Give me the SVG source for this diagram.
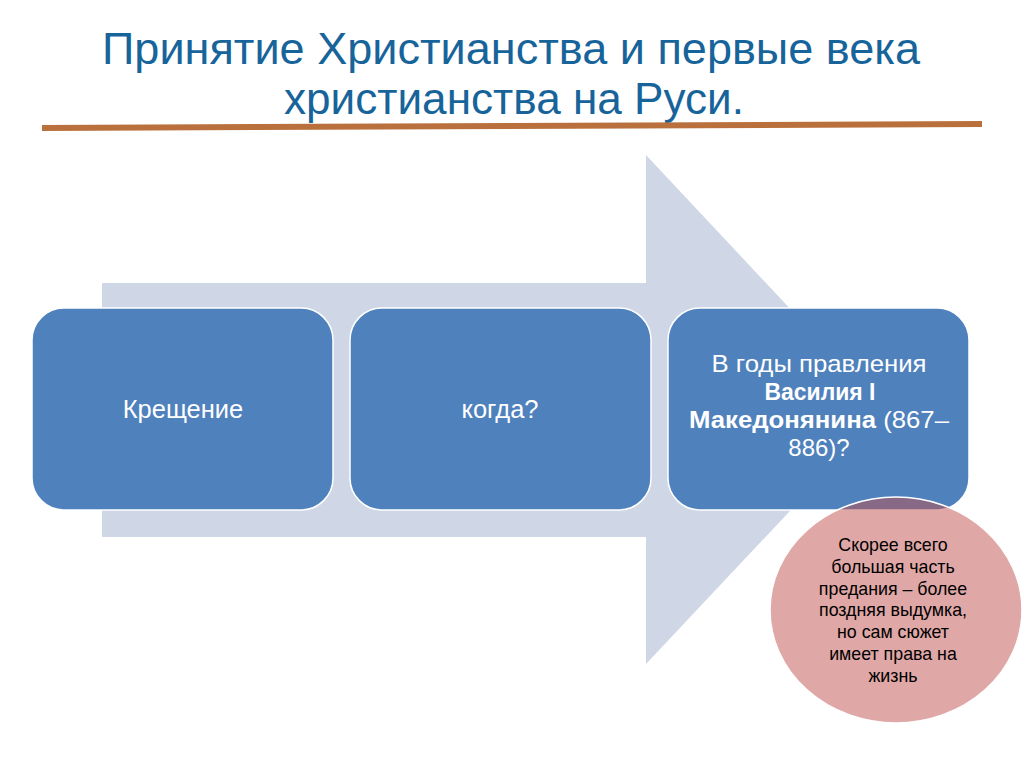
<svg xmlns="http://www.w3.org/2000/svg" width="1024" height="767" viewBox="0 0 1024 767">
<style>
.title{font-family:"Liberation Sans",Arial,sans-serif;font-size:44px;fill:#17649b;text-anchor:middle}
.box{fill:#4f81bd;stroke:#ffffff;stroke-width:1.5}
.bt{font-family:"Liberation Sans",Arial,sans-serif;font-size:24px;fill:#ffffff;text-anchor:middle}
.big{font-size:25.5px}
.ct{font-family:"Liberation Sans",Arial,sans-serif;font-size:17.8px;fill:#000000;text-anchor:middle}
</style>
<rect width="1024" height="767" fill="#ffffff"/>
<g id="title">
<text class="title" x="511" y="64" textLength="818" lengthAdjust="spacingAndGlyphs">Принятие Христианства и первые века</text>
<text class="title" x="514" y="114" textLength="460" lengthAdjust="spacingAndGlyphs">христианства на Руси.</text>
<polygon points="42,125 982,121 982,127 42,131" fill="#b9703c"/>
</g>
<g id="arrow">
<polygon points="102,283 646,283 646,155 885,410 646,664 646,537 102,537" fill="#cfd7e6"/>
</g>
<g id="box1">
<rect class="box" x="32" y="308" width="301" height="202" rx="32" ry="32"/>
<text class="bt big" x="183" y="418">Крещение</text>
</g>
<g id="box2">
<rect class="box" x="350" y="308" width="301" height="202" rx="32" ry="32"/>
<text class="bt big" x="500" y="418">когда?</text>
</g>
<g id="box3">
<rect class="box" x="668" y="308" width="301" height="202" rx="32" ry="32"/>
<text class="bt" x="819" y="372" textLength="215" lengthAdjust="spacingAndGlyphs">В годы правления</text>
<text class="bt" x="820" y="400" font-weight="bold" textLength="111" lengthAdjust="spacingAndGlyphs">Василия I</text>
<text class="bt" x="819" y="428" textLength="260" lengthAdjust="spacingAndGlyphs"><tspan font-weight="bold">Македонянина</tspan> (867–</text>
<text class="bt" x="819" y="456">886)?</text>
</g>
<g id="note">
<ellipse cx="896" cy="610" rx="126" ry="113" fill="#c0504d" fill-opacity="0.5" stroke="#ffffff" stroke-width="1.5"/>
<text class="ct" x="893" y="551">Скорее всего</text>
<text class="ct" x="893" y="573">большая часть</text>
<text class="ct" x="893" y="595">предания – более</text>
<text class="ct" x="893" y="616">поздняя выдумка,</text>
<text class="ct" x="893" y="638">но сам сюжет</text>
<text class="ct" x="893" y="660">имеет права на</text>
<text class="ct" x="893" y="682">жизнь</text>
</g>
<g id="connectors"></g>
</svg>
